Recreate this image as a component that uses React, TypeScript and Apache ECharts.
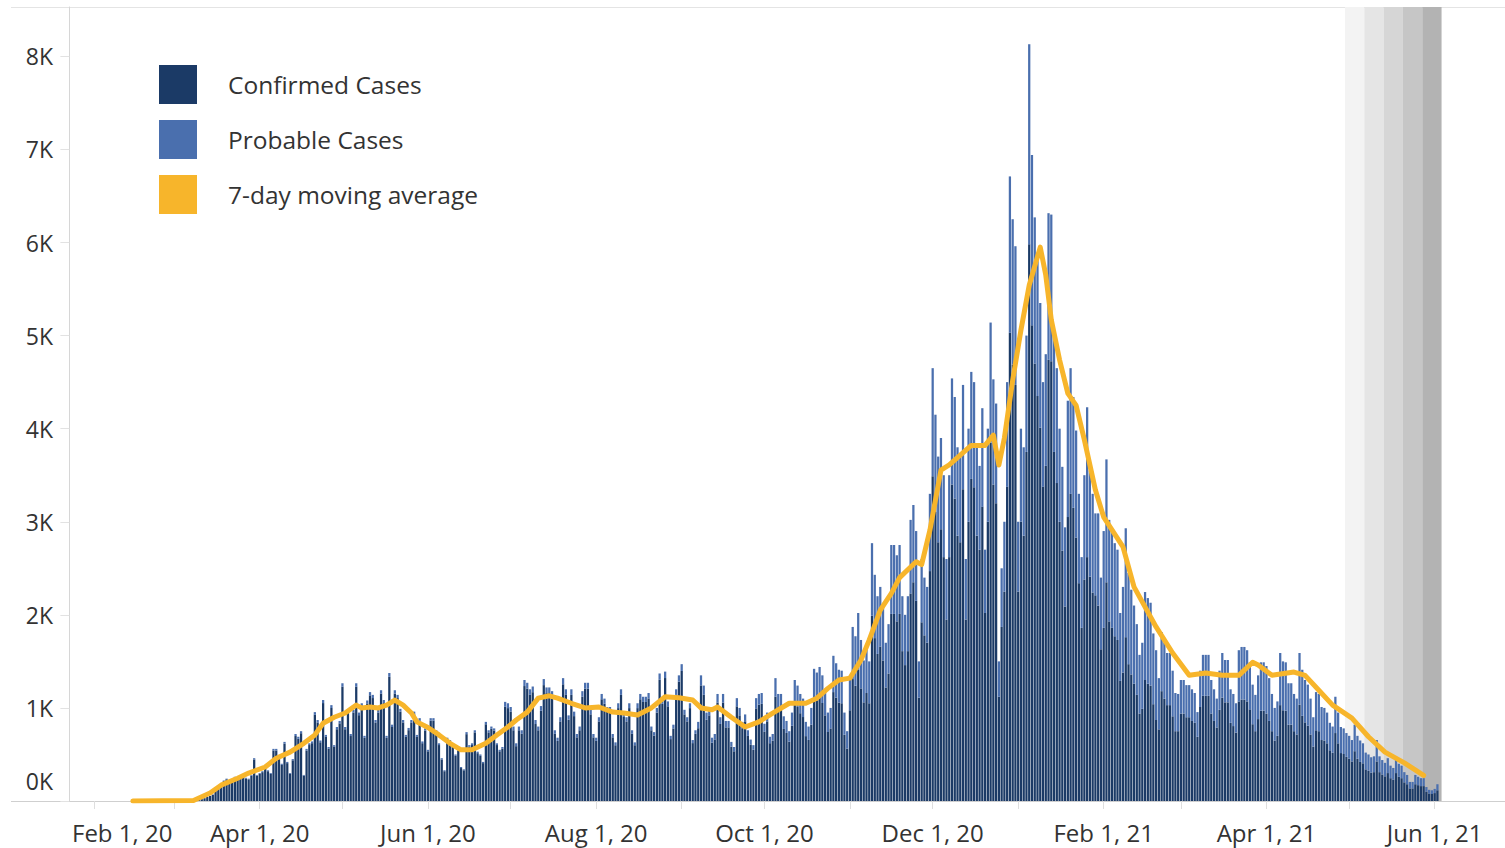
import React, { useEffect, useRef } from 'react';
import * as echarts from 'echarts';

// ---------- data ----------
const FIRST_DAY = '2020-01-23';
const DAY_COUNT = 521;
const BAR_START = '2020-03-02';

const seriesNames = ['Confirmed Cases', 'Probable Cases', '7-day moving average'];

const confirmed = [
  0, 0, 0, 0, 0, 0, 0,
  8, 12, 20, 30, 44, 54, 68,
  107, 146, 175, 214, 233, 194, 223,
  252, 243, 262, 281, 243, 233, 272,
  446, 272, 291, 310, 369, 320, 291,
  543, 543, 456, 388, 616, 407, 291,
  437, 698, 669, 728, 272, 543, 601,
  621, 926, 844, 631, 1052, 689, 563,
  999, 582, 771, 834, 1227, 771, 951,
  698, 951, 1227, 922, 1019, 679, 1048,
  1135, 1106, 844, 951, 1154, 1052, 679,
  1334, 795, 1154, 1106, 960, 844, 689,
  761, 844, 931, 689, 863, 621, 757,
  534, 863, 863, 737, 601, 446, 320,
  660, 635, 601, 485, 543, 354, 330,
  718, 582, 601, 737, 514, 485, 407,
  824, 737, 776, 757, 601, 534, 563,
  1012, 998, 960, 760, 589, 760, 722,
  1235, 1207, 1140, 1169, 827, 760, 969,
  1245, 1159, 1159, 1121, 722, 646, 855,
  1254, 1140, 874, 1140, 912, 684, 760,
  1121, 1207, 1207, 931, 684, 646, 855,
  1093, 1045, 960, 960, 684, 599, 998,
  1140, 903, 855, 998, 722, 599, 998,
  1093, 1064, 1064, 1102, 760, 703, 950,
  1302, 1045, 1321, 1017, 665, 779, 1140,
  1283, 1397, 931, 855, 998, 622, 722,
  782, 1242, 1141, 874, 920, 626, 662,
  1058, 828, 1058, 791, 791, 584, 534,
  1017, 920, 782, 856, 699, 607, 552,
  995, 1035, 1044, 747, 855, 621, 648,
  1122, 978, 978, 774, 731, 638, 808,
  1066, 1017, 943, 902, 697, 656, 820,
  1108, 1076, 1123, 1053, 920, 741, 780,
  1170, 1110, 1058, 1050, 713, 563, 975,
  1310, 1240, 1410, 1210, 1060, 1160, 1050,
  1990, 1750, 1580, 1660, 1510, 1220, 1370,
  2010, 2010, 1930, 2010, 1610, 1460, 1610,
  2230, 2350, 2150, 1110, 1920, 1780, 1700,
  2470, 3490, 3110, 2780, 2920, 2620, 1950,
  2620, 3400, 3250, 2850, 2780, 3350, 1950,
  3000, 3460, 3370, 2850, 2700, 3160, 2020,
  3000, 3850, 3400, 3200, 1120, 1870, 2250,
  3375, 5030, 4690, 4470, 2250, 3000, 2850,
  3750, 5980, 5110, 4700, 4350, 4010, 3375,
  3600, 4740, 4725, 3750, 3415, 3000, 2690,
  2090, 3050, 3300, 3150, 2830, 2340, 1860,
  2380, 2620, 2410, 2240, 2210, 2100, 1630,
  1860, 2350, 1930, 1860, 1770, 1730, 1290,
  1380, 1760, 1470, 1360, 1260, 1140, 940,
  990, 1300, 1260, 1240, 1040, 870, 770,
  1180, 1100, 1030, 1030, 910, 750, 750,
  940, 940, 900, 900, 860, 840, 690,
  1010, 1130, 1130, 1130, 940, 860, 790,
  980, 1110, 1060, 1060, 840, 805, 735,
  1070, 1090, 1090, 1070, 985, 825, 750,
  880, 970, 970, 940, 860, 750, 650,
  700, 1030, 975, 970, 820, 820, 750,
  715, 1035, 915, 845, 810, 715, 585,
  760, 750, 655, 650, 620, 545, 520,
  730, 620, 515, 505, 475, 455, 425,
  535, 455, 420, 405, 340, 325, 305,
  310, 425, 310, 285, 265, 300, 245,
  230, 300, 260, 245, 200, 180, 135,
  135, 180, 170, 160, 160, 100, 80,
  75, 85, 115,
];

const probable = [
  0, 0, 0, 0, 0, 0, 0,
  0, 0, 0, 0, 1, 1, 2,
  3, 4, 5, 6, 7, 6, 7,
  8, 7, 8, 9, 7, 7, 8,
  14, 8, 9, 10, 11, 10, 9,
  17, 17, 14, 12, 19, 13, 9,
  13, 22, 21, 22, 8, 17, 19,
  19, 29, 26, 19, 33, 21, 17,
  31, 18, 24, 26, 38, 24, 29,
  22, 29, 38, 28, 31, 21, 32,
  35, 34, 26, 29, 36, 33, 21,
  41, 25, 36, 34, 30, 26, 21,
  24, 26, 29, 21, 27, 19, 23,
  16, 27, 27, 23, 19, 14, 10,
  20, 20, 19, 15, 17, 11, 10,
  22, 18, 19, 23, 16, 15, 13,
  26, 23, 24, 23, 19, 16, 17,
  53, 52, 50, 40, 31, 40, 38,
  65, 63, 60, 61, 43, 40, 51,
  65, 61, 61, 59, 38, 34, 45,
  66, 60, 46, 60, 48, 36, 40,
  59, 63, 63, 49, 36, 34, 45,
  57, 55, 50, 50, 36, 31, 52,
  60, 47, 45, 52, 38, 31, 52,
  57, 56, 56, 58, 40, 37, 50,
  68, 55, 69, 53, 35, 41, 60,
  67, 73, 49, 45, 52, 33, 38,
  68, 108, 99, 76, 80, 54, 58,
  92, 72, 92, 69, 69, 51, 46,
  88, 80, 68, 74, 61, 53, 48,
  110, 115, 116, 83, 95, 69, 72,
  198, 172, 172, 136, 129, 112, 142,
  234, 223, 207, 198, 153, 144, 180,
  312, 304, 317, 297, 260, 209, 220,
  390, 370, 352, 350, 237, 187, 325,
  560, 530, 610, 520, 450, 500, 450,
  780, 680, 620, 640, 590, 480, 530,
  740, 740, 710, 740, 590, 540, 590,
  790, 830, 750, 390, 680, 620, 600,
  830, 1160, 1040, 920, 980, 880, 650,
  880, 1140, 1090, 950, 920, 1120, 650,
  1000, 1150, 1130, 950, 900, 1060, 680,
  1000, 1290, 1130, 1070, 380, 630, 750,
  1125, 1680, 1560, 1490, 750, 1000, 950,
  1250, 2150, 1830, 1570, 1450, 1340, 1125,
  1200, 1575, 1575, 1250, 1235, 1000, 900,
  850, 1250, 1350, 1190, 1150, 960, 760,
  1120, 1610, 1140, 1060, 880, 990, 770,
  1040, 1320, 1090, 1040, 1000, 970, 730,
  920, 1170, 980, 910, 840, 760, 630,
  710, 945, 920, 890, 760, 750, 550,
  635, 600, 560, 560, 490, 410, 400,
  360, 360, 345, 345, 340, 320, 265,
  390, 440, 440, 440, 360, 340, 310,
  420, 480, 455, 455, 360, 345, 315,
  550, 565, 565, 550, 505, 425, 390,
  470, 520, 520, 510, 460, 400, 350,
  370, 560, 525, 520, 445, 445, 400,
  385, 555, 495, 455, 440, 385, 315,
  410, 400, 355, 350, 330, 295, 280,
  390, 330, 280, 275, 255, 245, 230,
  285, 245, 230, 215, 180, 175, 165,
  170, 230, 170, 155, 145, 160, 135,
  125, 160, 140, 135, 110, 100, 70,
  70, 100, 90, 85, 85, 50, 40,
  40, 45, 65,
];

const maDates = [
  '2020-02-15', '2020-03-08', '2020-03-14', '2020-03-18', '2020-03-24', '2020-03-28',
  '2020-04-03', '2020-04-07', '2020-04-12', '2020-04-17', '2020-04-21', '2020-04-24',
  '2020-04-28', '2020-05-02', '2020-05-05', '2020-05-06', '2020-05-08', '2020-05-11',
  '2020-05-14', '2020-05-17', '2020-05-20', '2020-05-23', '2020-05-26', '2020-05-28',
  '2020-06-01', '2020-06-05', '2020-06-09', '2020-06-13', '2020-06-17', '2020-06-22',
  '2020-06-26', '2020-06-30', '2020-07-03', '2020-07-07', '2020-07-11', '2020-07-15',
  '2020-07-18', '2020-07-23', '2020-07-28', '2020-08-02', '2020-08-07', '2020-08-11',
  '2020-08-16', '2020-08-21', '2020-08-26', '2020-08-31', '2020-09-05', '2020-09-08',
  '2020-09-12', '2020-09-14', '2020-09-19', '2020-09-24', '2020-09-29', '2020-10-04',
  '2020-10-10', '2020-10-16', '2020-10-20', '2020-10-24', '2020-10-28', '2020-11-01',
  '2020-11-05', '2020-11-08', '2020-11-12', '2020-11-16', '2020-11-19', '2020-11-25',
  '2020-11-27', '2020-11-30', '2020-12-04', '2020-12-07', '2020-12-11', '2020-12-15',
  '2020-12-20', '2020-12-23', '2020-12-25', '2020-12-27', '2020-12-30', '2021-01-02',
  '2021-01-05', '2021-01-09', '2021-01-11', '2021-01-13', '2021-01-16', '2021-01-19',
  '2021-01-22', '2021-01-25', '2021-01-29', '2021-02-01', '2021-02-08', '2021-02-12',
  '2021-02-20', '2021-02-26', '2021-03-04', '2021-03-10', '2021-03-16', '2021-03-22',
  '2021-03-27', '2021-03-29', '2021-04-03', '2021-04-11', '2021-04-15', '2021-04-20',
  '2021-04-25', '2021-05-02', '2021-05-08', '2021-05-14', '2021-05-21', '2021-05-28',
];

const maValues = [
  0, 5, 85, 170, 245, 300,
  365, 460, 525, 620, 710, 835,
  900, 945, 1010, 1030, 1000, 1010,
  1000, 1030, 1085, 1030, 945, 850,
  790, 710, 620, 550, 550, 620,
  710, 795, 870, 955, 1105, 1130,
  1105, 1050, 1000, 1010, 955, 945,
  925, 1000, 1120, 1110, 1085, 1000,
  980, 1010, 900, 795, 850, 945,
  1050, 1050, 1105, 1210, 1300, 1320,
  1515, 1730, 2050, 2230, 2400, 2570,
  2540, 2910, 3555, 3610, 3715, 3820,
  3820, 3930, 3610, 3900, 4520, 5060,
  5540, 5950, 5650, 5170, 4740, 4380,
  4250, 3880, 3340, 3050, 2730, 2300,
  1870, 1590, 1350, 1375, 1350, 1350,
  1490, 1460, 1350, 1385, 1350, 1190,
  1030, 890, 690, 525, 410, 275,
];

const yMax = 8530;
const yStep = 1000;

// shaded "incomplete data" weeks at the end
const bandStarts = ['2021-04-30', '2021-05-07', '2021-05-14', '2021-05-21', '2021-05-28'];
const bandColors = ['#f3f3f3', '#e5e5e5', '#d6d6d6', '#c6c6c6', '#b3b3b3'];

const MONTHS = ['Jan', 'Feb', 'Mar', 'Apr', 'May', 'Jun', 'Jul', 'Aug', 'Sep', 'Oct', 'Nov', 'Dec'];

// ---------- helpers ----------
function buildDays(): string[] {
  const start = Date.parse(FIRST_DAY + 'T00:00:00Z');
  const out: string[] = [];
  for (let i = 0; i < DAY_COUNT; i++) {
    out.push(new Date(start + i * 86400000).toISOString().slice(0, 10));
  }
  return out;
}

function fmtDate(v: string): string {
  const m = Number(v.slice(5, 7));
  const d = Number(v.slice(8, 10));
  return `${MONTHS[m - 1]} ${d}, ${v.slice(2, 4)}`;
}

const FONT = 'Open Sans';
const TEXT_COLOR = '#333333';

export default function App() {
  const ref = useRef<HTMLDivElement>(null);

  useEffect(() => {
    if (!ref.current) return;
    const chart = echarts.init(ref.current, undefined, { renderer: 'svg' });

    const days = buildDays();
    const barStart = days.indexOf(BAR_START);
    const pad = (arr: number[]) => {
      const out: (number | null)[] = new Array(days.length).fill(null);
      arr.forEach((v, i) => {
        out[barStart + i] = v;
      });
      return out;
    };
    const maData = maDates.map((d, i) => [d, maValues[i]]);
    const bandIdx = bandStarts.map((s) => days.indexOf(s));

    const option: any = {
      animation: false,
      textStyle: { fontFamily: FONT },
      grid: { left: 68, right: 0, top: 7, bottom: 47 },
      legend: {
        orient: 'vertical',
        left: 159,
        top: 65,
        padding: 0,
        itemWidth: 38,
        itemHeight: 39,
        itemGap: 16,
        selectedMode: false,
        icon: 'rect',
        textStyle: { fontSize: 24.5, color: TEXT_COLOR, fontFamily: FONT, padding: [0, 0, 0, 26] },
        data: seriesNames.map((n) => ({ name: n, icon: 'rect' })),
      },
      xAxis: [
        {
          type: 'category',
          data: days,
          boundaryGap: true,
          axisLine: { show: true, lineStyle: { color: '#cfcfcf', width: 1 } },
          axisTick: {
            show: true,
            alignWithLabel: true,
            length: 8,
            interval: (_i: number, v: string) => v.endsWith('-01'),
            lineStyle: { color: '#dedede' },
          },
          axisLabel: {
            interval: (_i: number, v: string) => v.endsWith('-01') && Number(v.slice(5, 7)) % 2 === 0,
            formatter: (v: string) => (v === '2020-02-01' ? `{first|${fmtDate(v)}}` : fmtDate(v)),
            fontSize: 24,
            color: TEXT_COLOR,
            fontFamily: FONT,
            margin: 19,
            hideOverlap: false,
            rich: {
              first: { padding: [0, 0, 0, 56], fontSize: 24, color: TEXT_COLOR, fontFamily: FONT },
            },
          },
          splitLine: { show: false },
        },
        { type: 'value', show: false, min: -0.5, max: DAY_COUNT - 0.5 },
      ],
      yAxis: {
        type: 'value',
        min: 0,
        max: yMax,
        interval: yStep,
        axisLine: { show: true, lineStyle: { color: '#d6d6d6' } },
        axisTick: { show: true, length: 9, lineStyle: { color: '#e2e2e2' } },
        splitLine: { show: false },
        axisLabel: {
          showMaxLabel: false,
          margin: 15,
          fontSize: 23,
          color: TEXT_COLOR,
          fontFamily: FONT,
          formatter: (v: number) =>
            v === 0 ? '{zero|0K}' : v % yStep === 0 ? `${v / 1000}K` : '',
          rich: {
            zero: { padding: [0, 0, 40, 0], fontSize: 23, color: TEXT_COLOR, fontFamily: FONT },
          },
        },
      },
      graphic: [
        {
          type: 'line',
          shape: { x1: 11, y1: 7.5, x2: 1505, y2: 7.5 },
          style: { stroke: '#e4e4e4', lineWidth: 1 },
          silent: true,
        },
        {
          type: 'line',
          shape: { x1: 11, y1: 801.5, x2: 68, y2: 801.5 },
          style: { stroke: '#cfcfcf', lineWidth: 1 },
          silent: true,
        },
      ],
      series: [
        {
          name: 'bands',
          type: 'line',
          xAxisIndex: 1,
          yAxisIndex: 0,
          data: [],
          symbol: 'none',
          silent: true,
          markArea: {
            silent: true,
            data: bandIdx.map((s, k) => [
              { xAxis: s - 0.5, itemStyle: { color: bandColors[k] } },
              { xAxis: s + 6.5 },
            ]),
          },
        },
        {
          name: seriesNames[0],
          type: 'bar',
          stack: 'cases',
          barCategoryGap: '18%',
          itemStyle: { color: '#1b3a66' },
          data: pad(confirmed),
          z: 3,
        },
        {
          name: seriesNames[1],
          type: 'bar',
          stack: 'cases',
          barCategoryGap: '18%',
          itemStyle: { color: '#4a6fae' },
          data: pad(probable),
          z: 3,
        },
        {
          name: seriesNames[2],
          type: 'line',
          data: maData,
          color: '#f7b52b',
          symbol: 'none',
          showSymbol: false,
          lineStyle: { color: '#f7b52b', width: 5, join: 'round', cap: 'round' },
          itemStyle: { color: '#f7b52b' },
          z: 5,
        },
      ],
    };

    chart.setOption(option);
    return () => chart.dispose();
  }, []);

  return (
    <div
      ref={ref}
      style={{ position: 'absolute', left: 0, top: 0, width: 1505, height: 848, background: '#ffffff' }}
    />
  );
}
